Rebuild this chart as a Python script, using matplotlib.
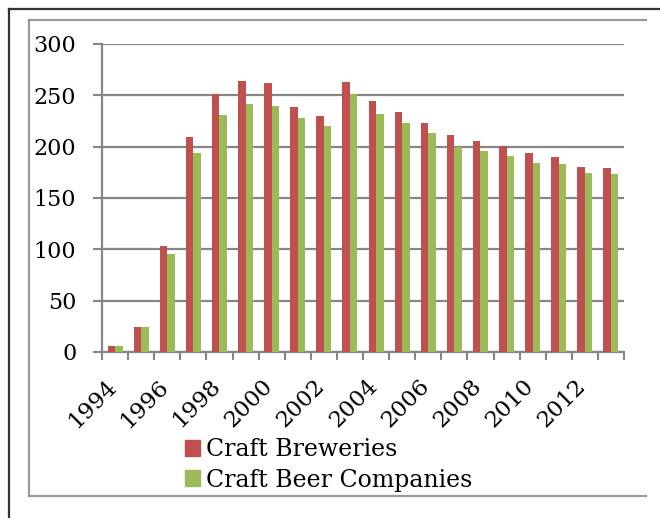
import matplotlib
matplotlib.use('Agg')
import matplotlib.pyplot as plt
from matplotlib.lines import Line2D
from matplotlib.patches import Patch
import matplotlib.transforms as mtransforms
import numpy as np

plt.rcParams['font.family'] = ['DejaVu Serif']

years = list(range(1994, 2014))
breweries = [6, 24, 103, 209, 251, 264, 262, 239, 230, 263,
             244, 234, 223, 211, 206, 201, 194, 190, 180, 179]
companies = [6, 24, 95, 194, 231, 242, 240, 228, 220, 251,
             232, 223, 213, 200, 196, 191, 184, 183, 174, 173]

red = '#C0504D'
green = '#9BBB59'
grid_col = '#868686'

W, H = 660, 518
fig = plt.figure(figsize=(6.6, 5.18), dpi=100)
ax = fig.add_axes([102 / W, 1 - 352 / H, (624 - 102) / W, (352 - 44) / H])

x = np.arange(len(years))
bw = 1 / 3.5
ax.bar(x - bw / 2, breweries, width=bw, color=red, label='Craft Breweries', zorder=3)
ax.bar(x + bw / 2, companies, width=bw, color=green, label='Craft Beer Companies', zorder=3)

ax.set_xlim(-0.5, len(years) - 0.5)
ax.set_ylim(0, 300)
ax.set_yticks(range(0, 301, 50))
ax.yaxis.grid(True, color=grid_col, linewidth=1.6)
ax.set_axisbelow(True)
for s in ['top', 'right']:
    ax.spines[s].set_visible(False)
for s in ['left', 'bottom']:
    ax.spines[s].set_color(grid_col)
    ax.spines[s].set_linewidth(1.6)

ax.tick_params(axis='y', length=6.5, width=1.5, color=grid_col, labelsize=16, pad=12)
# x ticks between categories, labels on every other year
ax.set_xticks(np.arange(-0.5, len(years), 1))
ax.set_xticklabels([])
ax.tick_params(axis='x', length=5.8, width=1.5, color=grid_col)

offset = mtransforms.ScaledTranslation(-2 / 100, -31 / 100, fig.dpi_scale_trans)
for i, yr in enumerate(years):
    if i % 2 == 0:
        ax.text(i, 0, str(yr), rotation=45, rotation_mode='anchor',
                ha='right', va='center', fontsize=16.5,
                transform=ax.get_xaxis_transform() + offset)

handles = [Patch(color=red), Patch(color=green)]
fig.legend(handles, ['Craft Breweries', 'Craft Beer Companies'],
           loc='center left', bbox_to_anchor=(185 / W, 1 - 465 / H),
           frameon=False, fontsize=17, handlelength=0.65, handleheight=0.65,
           handletextpad=0.25, labelspacing=0.3, borderpad=0, borderaxespad=0)

# outer frame (top + left) and inner chart frame
def fline(xs, ys, color, lw):
    fig.add_artist(Line2D([v / W for v in xs], [1 - v / H for v in ys],
                          color=color, linewidth=lw, transform=fig.transFigure))

fline([9, 660], [9, 9], '#333333', 1.6)
fline([9, 9], [9, 518], '#333333', 1.6)
fline([29, 646], [20, 20], '#999999', 1.6)
fline([29, 29], [20, 496], '#999999', 1.6)
fline([29, 646], [496, 496], '#999999', 1.6)

fig.savefig('out.png', dpi=100)
